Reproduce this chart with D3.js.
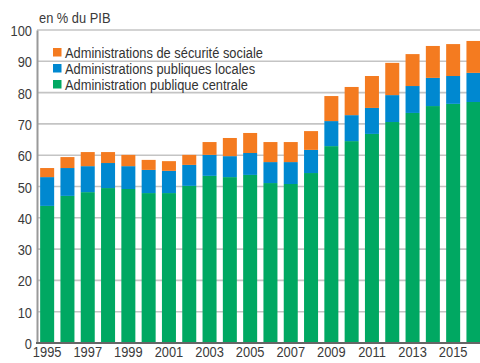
<!DOCTYPE html>
<html>
<head>
<meta charset="utf-8">
<script src="https://cdn.jsdelivr.net/npm/d3@7"></script>
<style>
  html, body { margin: 0; padding: 0; background: #fff; }
  svg { display: block; }
  text { font-family: "Liberation Sans", Arial, sans-serif; }
</style>
</head>
<body>
<svg id="chart" width="480" height="363"></svg>
<script>
// Dette des administrations publiques, en % du PIB, par sous-secteur
const years = d3.range(1995, 2017).map(String);
const centrale = [43.8, 47.0, 48.2, 49.5, 49.2, 47.9, 47.9, 50.2, 53.4, 53.0, 53.7,
                  51.1, 50.8, 54.3, 62.9, 64.5, 66.8, 70.6, 73.5, 75.7, 76.4, 77.0];
const locales = [9.2, 8.9, 8.3, 8.0, 7.3, 7.4, 7.1, 6.7, 6.7, 6.7, 7.0,
                 6.7, 7.0, 7.4, 8.0, 8.3, 8.3, 8.6, 8.6, 9.0, 8.9, 9.3];
const securite = [2.9, 3.5, 4.5, 3.5, 3.6, 3.2, 3.1, 3.2, 4.1, 5.8, 6.4,
                  6.4, 6.4, 6.0, 8.0, 9.0, 10.2, 10.3, 10.2, 10.2, 10.2, 10.2];
const seriesNames = ["Administration publique centrale", "Administrations publiques locales", "Administrations de sécurité sociale"];
const seriesColors = ["#00a862", "#0088d0", "#f47b20"];
const yTicks = d3.range(0, 101, 10);
const yearLabels = years.filter((y, i) => i % 2 === 0);

const table = years.map((y, i) => ({ year: y, c: centrale[i], l: locales[i], s: securite[i] }));
const stack = d3.stack().keys(["c", "l", "s"])(table);

const svg = d3.select("#chart");
const x0 = 37, x1 = 480, yTop = 30, yBot = 343;
const squeeze = 0.83; // narrow lettering
const fs = 15.5;

// horizontally condense a text element around its own anchor point
function condense(sel) {
  sel.each(function () {
    const t = d3.select(this);
    const ax = +t.attr("x") || 0, ay = +t.attr("y") || 0;
    t.attr("transform", `translate(${ax},${ay}) scale(${squeeze},1) translate(${-ax},${-ay})`);
  });
}

const x = d3.scaleBand().domain(years).range([x0, x0 + 22 * 20.3]).paddingInner(0.31).paddingOuter(0.155);
const y = d3.scaleLinear().domain([0, 100]).range([yBot, yTop]);

// gridlines
svg.append("g").selectAll("line").data(yTicks.filter(t => t > 0)).join("line")
  .attr("x1", x0).attr("x2", x1)
  .attr("y1", d => y(d)).attr("y2", d => y(d))
  .attr("stroke", "#c4c4c4").attr("stroke-width", 1.6);

// clip to plot area
svg.append("clipPath").attr("id", "plot")
  .append("rect").attr("x", x0).attr("y", 0).attr("width", x1 - x0).attr("height", yBot);

// stacked bars
svg.append("g").attr("clip-path", "url(#plot)")
  .selectAll("g").data(stack).join("g")
  .attr("fill", (d, i) => seriesColors[i])
  .selectAll("rect").data(d => d).join("rect")
  .attr("x", d => x(d.data.year))
  .attr("width", x.bandwidth())
  .attr("y", d => y(d[1]))
  .attr("height", d => y(d[0]) - y(d[1]));

// y axis
const yAxis = d3.axisLeft(y).tickValues(yTicks).tickSize(0).tickPadding(5);
const gy = svg.append("g").attr("transform", `translate(${x0},0)`).call(yAxis);
gy.select(".domain").attr("stroke", "#999").attr("stroke-width", 2);
gy.selectAll("text").attr("fill", "#3a3a3a").attr("font-size", fs).attr("dy", "0.36em").call(condense);

// x axis
const xAxis = d3.axisBottom(x).tickValues(yearLabels).tickSize(0).tickPadding(3);
const gx = svg.append("g").attr("transform", `translate(0,${yBot})`).call(xAxis);
gx.select(".domain").attr("d", `M${x0 - 1},0H${x1}`).attr("stroke", "#666").attr("stroke-width", 2);
gx.selectAll("text").attr("fill", "#3a3a3a").attr("font-size", fs).call(condense);

// unit label
svg.append("text").attr("x", x0 + 2).attr("y", 23)
  .attr("fill", "#3a3a3a").attr("font-size", fs).text("en % du PIB").call(condense);

// legend (top to bottom: sécurité sociale, locales, centrale)
const legendOrder = [2, 1, 0];
const lg = svg.append("g").selectAll("g").data(legendOrder).join("g")
  .attr("transform", (d, i) => `translate(53,${47 + i * 16})`);
lg.append("rect").attr("width", 8.5).attr("height", 8.5).attr("y", 1).attr("fill", d => seriesColors[d]);
lg.append("text").attr("x", 12).attr("y", 11).attr("fill", "#333").attr("font-size", fs)
  .text(d => seriesNames[d]).call(condense);
</script>
</body>
</html>
